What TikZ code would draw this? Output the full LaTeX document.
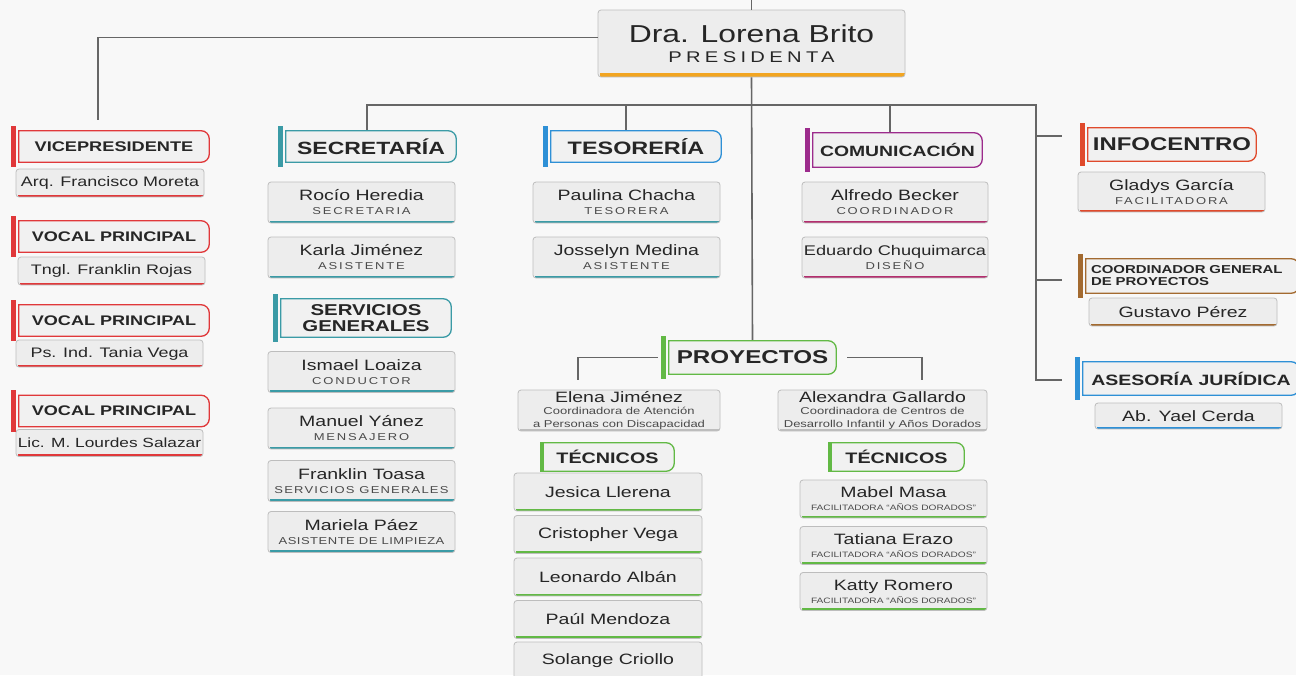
\documentclass[tikz,border=0pt]{standalone}
\usepackage{fontspec}
\setmainfont{Liberation Sans}[FakeStretch=1.3]
\usetikzlibrary{calc}

\definecolor{fondo}{HTML}{F8F8F8}
\definecolor{txt}{HTML}{262626}
\definecolor{sub}{HTML}{4A4A4A}
\definecolor{boxline}{HTML}{BDBDBD}
\definecolor{boxfill}{HTML}{EDEDED}
\definecolor{tabfill}{HTML}{F1F1F1}
\definecolor{conncol}{HTML}{666666}
\definecolor{naranja}{HTML}{F2A521}
\definecolor{rojo}{HTML}{E0383A}
\definecolor{turquesa}{HTML}{3B9BA6}
\definecolor{azul}{HTML}{2E90D6}
\definecolor{morado}{HTML}{9C2B8C}
\definecolor{magenta}{HTML}{B32E6E}
\definecolor{infor}{HTML}{E04A2C}
\definecolor{cafe}{HTML}{A36A30}
\definecolor{verde}{HTML}{62B945}

% cargo under a name, letter spaced
\newcommand{\cargo}[2][18]{{\fontsize{10}{12}\selectfont\addfontfeature{LetterSpace=#1}\color{sub}#2}}
\newcommand{\detalle}[1]{{\fontsize{10}{11}\selectfont\color{sub}#1}}
\newcommand{\facil}{{\fontsize{7.8}{9}\selectfont\color{sub}FACILITADORA “AÑOS DORADOS”}}

\tikzset{
  ul/.store in=\ulw, ul=2.5pt,
  conn/.style={draw=conncol, line width=1.6pt},
  namebox/.style={draw=boxline, fill=boxfill, rounded corners=3pt, line width=0.8pt,
    inner sep=0pt, align=center, text=txt, minimum width=187pt, minimum height=41pt,
    font=\fontsize{15}{16}\selectfont,
    path picture={\fill[#1, sharp corners] ([xshift=2pt]path picture bounding box.south west)
      rectangle ([yshift=\ulw]path picture bounding box.south east);}},
  tab/.style={inner sep=0pt, align=center, text=txt, minimum height=33pt,
    font=\bfseries\fontsize{14}{16}\selectfont,
    path picture={\draw[#1, line width=1.3pt, fill=tabfill]
      let \p1=(path picture bounding box.south west), \p2=(path picture bounding box.north east) in
      (\x1+0.7pt,\y1+0.7pt) -- (\x1+0.7pt,\y2-0.7pt) -- (\x2-9pt,\y2-0.7pt)
      .. controls (\x2-4.4pt,\y2-0.7pt) and (\x2-0.7pt,\y2-4.4pt) .. (\x2-0.7pt,\y2-9pt)
      -- (\x2-0.7pt,\y1+9pt)
      .. controls (\x2-0.7pt,\y1+4.4pt) and (\x2-4.4pt,\y1+0.7pt) .. (\x2-9pt,\y1+0.7pt) -- cycle;}},
}

\begin{document}
\begin{tikzpicture}[x=1pt, y=-1pt]
  \useasboundingbox (0,0) rectangle (1296,675);
  \fill[fondo] (0,0) rectangle (1296,675);

  % Presidencia
  \node[namebox=naranja, ul=4pt, minimum width=307pt, minimum height=67pt, font=\fontsize{24.5}{27}\selectfont] (pres) at (751.5,43.5)
    {\raisebox{-3pt}{Dra. Lorena Brito}\\[-4pt]{\fontsize{15.5}{17}\selectfont\addfontfeature{LetterSpace=28}PRESIDENTA}};

  % Vicepresidencia y vocales
  \node[tab=rojo, minimum width=192pt] (vp) at (114,146.5) {VICEPRESIDENTE};
  \node[namebox=rojo, minimum width=188pt, minimum height=28pt, font=\fontsize{13.8}{15}\selectfont] (vpn) at (110,183) {Arq. Francisco Moreta};
  \node[tab=rojo, minimum width=192pt, font=\bfseries\fontsize{13.9}{16}\selectfont] (v1) at (114,236.5) {VOCAL PRINCIPAL};
  \node[namebox=rojo, minimum width=187pt, minimum height=28pt, font=\fontsize{13.8}{15}\selectfont] (v1n) at (111.5,271) {Tngl. Franklin Rojas};
  \node[tab=rojo, minimum width=192pt, font=\bfseries\fontsize{13.9}{16}\selectfont] (v2) at (114,320.5) {VOCAL PRINCIPAL};
  \node[namebox=rojo, minimum width=187pt, minimum height=27pt, font=\fontsize{13.8}{15}\selectfont] (v2n) at (109.5,353.5) {Ps. Ind. Tania Vega};
  \node[tab=rojo, minimum width=192pt, font=\bfseries\fontsize{13.9}{16}\selectfont] (v3) at (114,411) {VOCAL PRINCIPAL};
  \node[namebox=rojo, minimum width=187pt, minimum height=27pt, font=\fontsize{13.3}{15}\selectfont] (v3n) at (109.5,443) {Lic. M. Lourdes Salazar};

  % Secretaria
  \node[tab=turquesa, minimum width=172pt, font=\bfseries\fontsize{17.7}{20}\selectfont] (sec) at (371,146.5) {SECRETARÍA};
  \node[namebox=turquesa] (sec1) at (361.5,202.5) {Rocío Heredia\\[-2pt]\cargo{SECRETARIA}};
  \node[namebox=turquesa] (sec2) at (361.5,257.5) {Karla Jiménez\\[-2pt]\cargo{ASISTENTE}};

  % Servicios generales
  \node[tab=turquesa, minimum width=172pt, minimum height=40pt, font=\bfseries\fontsize{15.7}{16}\selectfont] (serv) at (366,318) {SERVICIOS\\GENERALES};
  \node[namebox=turquesa] (serv1) at (361.5,372) {Ismael Loaiza\\[-2pt]\cargo{CONDUCTOR}};
  \node[namebox=turquesa] (serv2) at (361.5,428.5) {Manuel Yánez\\[-2pt]\cargo{MENSAJERO}};
  \node[namebox=turquesa] (serv3) at (361.5,481) {Franklin Toasa\\[-2pt]\cargo[12]{SERVICIOS GENERALES}};
  \node[namebox=turquesa] (serv4) at (361.5,532) {Mariela Páez\\[-2pt]\cargo[5]{ASISTENTE DE LIMPIEZA}};

  % Tesoreria
  \node[tab=azul, minimum width=172pt, font=\bfseries\fontsize{18}{20}\selectfont] (tes) at (636,146.5) {TESORERÍA};
  \node[namebox=turquesa] (tes1) at (626.5,202.5) {Paulina Chacha\\[-2pt]\cargo{TESORERA}};
  \node[namebox=turquesa] (tes2) at (626.5,257.5) {Josselyn Medina\\[-2pt]\cargo{ASISTENTE}};

  % Comunicacion
  \node[tab=morado, minimum width=171pt, minimum height=36pt, font=\bfseries\fontsize{14.9}{16}\selectfont] (com) at (897.5,150) {COMUNICACIÓN};
  \node[namebox=magenta, minimum width=186pt] (com1) at (895,202.5) {Alfredo Becker\\[-2pt]\cargo{COORDINADOR}};
  \node[namebox=magenta, minimum width=186pt] (com2) at (895,257.5) {\fontsize{14}{15}\selectfont Eduardo Chuquimarca\\[-2pt]\cargo{DISEÑO}};

  % Infocentro
  \node[tab=infor, minimum width=170pt, minimum height=35pt, font=\bfseries\fontsize{18.4}{20}\selectfont] (info) at (1172,144.5) {INFOCENTRO};
  \node[namebox=infor, minimum height=40pt] (info1) at (1171.5,192) {Gladys García\\[-2pt]\cargo{FACILITADORA}};

  % Coordinacion general
  \node[tab=cafe, minimum width=215pt, minimum height=36pt, text width=203pt, inner xsep=6pt, align=left,
    font=\bfseries\fontsize{11.5}{12}\selectfont] (coord) at (1192.5,276) {COORDINADOR GENERAL\\DE PROYECTOS};
  \node[namebox=cafe, minimum width=188pt, minimum height=28pt] (coord1) at (1183,312) {Gustavo Pérez};

  % Asesoria juridica
  \node[tab=azul, minimum width=218pt, minimum height=35pt, font=\bfseries\fontsize{15}{16}\selectfont] (ase) at (1191,378.5) {ASESORÍA JURÍDICA};
  \node[namebox=azul, minimum height=26pt] (ase1) at (1188.5,416) {Ab. Yael Cerda};

  % Proyectos
  \node[tab=verde, minimum width=169pt, minimum height=35pt, font=\bfseries\fontsize{18.6}{20}\selectfont] (proy) at (752.5,357.5) {PROYECTOS};
  \node[namebox=boxline, minimum width=202pt] (pa) at (619,410.5)
    {Elena Jiménez\\[-4pt]\detalle{Coordinadora de Atención}\\[-3pt]\detalle{a Personas con Discapacidad}};
  \node[namebox=boxline, minimum width=209pt] (pb) at (882.5,410.5)
    {Alexandra Gallardo\\[-4pt]\detalle{Coordinadora de Centros de}\\[-3pt]\detalle{Desarrollo Infantil y Años Dorados}};

  % Tecnicos
  \node[tab=verde, minimum width=135pt, minimum height=30pt, font=\bfseries\fontsize{15.2}{16}\selectfont] (tec1) at (607.5,457) {TÉCNICOS};
  \node[tab=verde, minimum width=137pt, minimum height=30pt, font=\bfseries\fontsize{15.2}{16}\selectfont] (tec2) at (896.5,457) {TÉCNICOS};

  \node[namebox=verde, minimum width=188pt, minimum height=38pt] (t1) at (608,492) {Jesica Llerena};
  \node[namebox=verde, minimum width=188pt, minimum height=38pt] (t2) at (608,534.5) {Cristopher Vega};
  \node[namebox=verde, minimum width=188pt, minimum height=38pt] (t3) at (608,577) {Leonardo Albán};
  \node[namebox=verde, minimum width=188pt, minimum height=38pt] (t4) at (608,619.5) {Paúl Mendoza};
  \node[namebox=verde, minimum width=188pt, minimum height=38pt] (t5) at (608,661) {Solange Criollo};

  \node[namebox=verde, minimum height=38pt] (f1) at (893.5,499) {Mabel Masa\\[-3pt]\facil};
  \node[namebox=verde, minimum height=38pt] (f2) at (893.5,545.5) {Tatiana Erazo\\[-3pt]\facil};
  \node[namebox=verde, minimum height=38pt] (f3) at (893.5,591.5) {Katty Romero\\[-3pt]\facil};

  % Tab bars
  \foreach \n/\c in {vp/rojo, v1/rojo, v2/rojo, v3/rojo, sec/turquesa, serv/turquesa, tes/azul,
                     com/morado, info/infor, coord/cafe, ase/azul, proy/verde}
    \fill[\c] ([xshift=-7pt, yshift=4pt]\n.north west) rectangle ([xshift=-2pt, yshift=-4pt]\n.south west);
  \foreach \n in {tec1, tec2}
    \fill[verde] (\n.north west) rectangle ([xshift=4pt]\n.south west);

  % Connectors
  \coordinate (top) at (751.5,0);
  \coordinate (vpc) at (98,120);
  \coordinate (jsec) at (367,105);
  \coordinate (jtes) at (626,105);
  \coordinate (jcom) at (890,105);
  \coordinate (jr) at (1036,105);
  \coordinate (ri1) at (1062,136);
  \coordinate (ri2) at (1062,280);
  \coordinate (ri3) at (1062,380);
  \coordinate (pl) at (578,380);
  \coordinate (pr) at (922,380);

  \draw[conn] (top) -- (pres.north);
  \draw[conn] ([yshift=6pt]pres.west) -| (vpc);
  \draw[conn] (pres.south) -- (proy.north);
  \draw[conn] (jsec |- sec.north) -- (jsec) -- (jr) |- (ri3);
  \draw[conn] (jtes) -- (jtes |- tes.north);
  \draw[conn] (jcom) -- (jcom |- com.north);
  \draw[conn] (jr |- ri1) -- (ri1);
  \draw[conn] (jr |- ri2) -- (ri2);
  \draw[conn] ([xshift=-10pt]proy.west) -| (pl);
  \draw[conn] ([xshift=10pt]proy.east) -| (pr);
\end{tikzpicture}
\end{document}
